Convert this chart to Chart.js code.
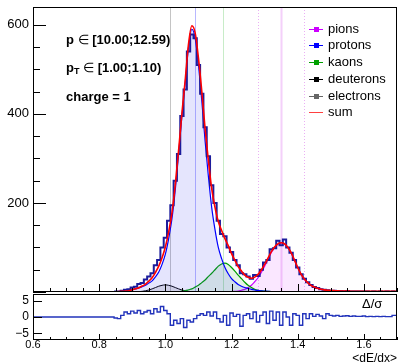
<!DOCTYPE html>
<html>
<head>
<meta charset="utf-8">
<script src="https://cdn.jsdelivr.net/npm/chart.js@4.4.1/dist/chart.umd.min.js"></script>
<style>
  body { margin: 0; background: #fff; width: 399px; height: 362px; overflow: hidden; position: relative;
         font-family: "Liberation Sans", Arial, Helvetica, sans-serif; }
  canvas { position: absolute; left: 0; }
  #topChart { top: 0; }
  #resChart { top: 293px; }
  .note { position: absolute; left: 66px; font-size: 13px; font-weight: bold; color: #000; white-space: nowrap; line-height: 1; }
  .note .sym { font-weight: normal; }
  .note sub { font-size: 9px; position: relative; top: 2px; vertical-align: baseline; }
  .leg { position: absolute; left: 309px; height: 14px; font-size: 13px; color: #000; line-height: 14px; white-space: nowrap; }
  .leg .ln { position: absolute; left: 0; top: 7px; width: 14px; height: 1px; }
  .leg .sq { position: absolute; left: 5px; top: 5px; width: 5px; height: 5px; }
  .leg .tx { position: absolute; left: 19px; top: 0; }
  #dsig { position: absolute; left: 362px; top: 297px; font-size: 13px; color: #000; line-height: 14px; }
  #xtitle { position: absolute; right: 2px; top: 352px; font-size: 12px; color: #000; line-height: 13px; }
</style>
</head>
<body>
<canvas id="topChart" width="399" height="294"></canvas>
<canvas id="resChart" width="399" height="69"></canvas>

<div class="note" style="top:33px">p <span class="sym">∈</span> [10.00;12.59)</div>
<div class="note" style="top:61px">p<sub>T</sub> <span class="sym">∈</span> [1.00;1.10)</div>
<div class="note" style="top:90px">charge = 1</div>
<div id="legend"></div>
<div id="dsig">Δ/σ</div>
<div id="xtitle">&lt;dE/dx&gt;</div>

<script>
// histogram of <dE/dx>, bins of 0.01 starting at 0.85 (values are bin centres)
const binWidth = 0.01;
const histStart = 0.85;
const histCounts = [
  1, 1, 3, 5, 6, 10, 12, 18, 20, 28, 35, 42, 60, 72, 100,          // 0.85 - 0.99
  122, 160, 195, 250, 310, 395, 455, 540, 578, 570,                // 1.00 - 1.09
  510, 445, 370, 305, 240, 200, 160, 130, 125, 100,                // 1.10 - 1.19
  90, 72, 60, 42, 40, 35, 30, 38, 36, 50,                          // 1.20 - 1.29
  66, 72, 96, 98, 115, 105, 118, 100, 88, 72,                      // 1.30 - 1.39
  55, 40, 30, 22, 16, 11, 9, 6, 5, 4,                              // 1.40 - 1.49
  3, 3, 2, 2, 1, 2, 1, 1, 1, 1,                                    // 1.50 - 1.59
  1, 1, 0, 1, 0, 1, 0, 1, 0, 1                                     // 1.60 - 1.69
];
// pull (data - fit) / sigma for the same bins
const residuals = [
  -0.3, -0.5, 0.5, 1.5, 1.0, 1.8, 1.2, 2.0, 1.0, 1.5, 2.0, 1.0, 2.5, 1.5, 3.2,
  2.0, 1.0, -2.5, -1.0, -2.0, -0.5, -3.2, -1.0, -1.5, -0.5,
  0.5, 1.0, 0.5, 1.5, 0.3, 1.5, -0.5, -1.5, 0.5, -2.5,
  1.2, 0.2, 0.8, -2.8, 0.5, 1.0, -0.5, 1.5, -1.5, 0.5,
  1.5, -2.0, 1.8, -1.0, 1.5, -2.5, 1.5, 0.0, -2.5, 1.0,
  0.5, -2.5, 1.0, -0.5, 1.0, 0.2, 0.8, 0.3, -0.5, 1.0,
  0.5, 0.3, 0.5, 0.2, 0.3, 0.4, 0.2, 0.3, 0.2, 0.2,
  0.3, 0.1, 0.2, 0.1, 0.2, 0.1, 0.2, 0.1, 0.1, 0.5
];

// fitted components, sampled every 0.01
const fitStep = 0.01;
const protonStart = 0.84;
const protonFit = [
  0.5, 0.7, 1, 1.5, 2, 3, 5, 7, 9, 12, 15, 20, 25, 34, 45, 62,     // 0.84 - 0.99
  85, 120, 165, 230, 310, 395, 470, 550, 590, 570,                 // 1.00 - 1.09
  510, 430, 340, 260, 190, 140, 100, 75, 55, 41,                   // 1.10 - 1.19
  30, 23, 17, 13, 10, 8, 6, 4.5, 3.5, 2.5,                         // 1.20 - 1.29
  2, 1.5, 1, 0.8, 0.6, 0.5, 0.4, 0.3, 0.2, 0.1, 0                  // 1.30 - 1.40
];
const kaonStart = 1.00;
const kaonFit = [
  0.2, 0.3, 0.5, 0.7, 1, 2, 3, 5, 7, 11,
  15, 21, 27, 35, 42, 50, 58, 63, 65, 62,
  55, 47, 38, 30, 22, 15, 10, 6, 4, 3,
  2, 1.5, 1, 0.6, 0.3, 0
];
const deuteronStart = 0.90;
const deuteronFit = [
  0.2, 0.4, 0.8, 1.5, 2.8, 4.5, 7, 10, 13, 15,
  16, 15, 13, 10, 7, 4.5, 2.8, 1.5, 0.8, 0.4, 0.2
];
const pionStart = 1.18;
const pionFit = [
  0.3, 0.6,                                                        // 1.18 - 1.19
  1, 1.5, 2, 4, 6, 10, 15, 23, 32, 44,                             // 1.20 - 1.29
  58, 73, 88, 100, 107, 110, 108, 100, 88, 72,                     // 1.30 - 1.39
  55, 40, 29, 21, 15, 11, 8, 6, 4.5, 3.5,                          // 1.40 - 1.49
  3, 2.5, 2, 1.7, 1.4, 1.2, 1, 0.9, 0.8, 0.7,                      // 1.50 - 1.59
  0.6, 0.5, 0.45, 0.4, 0.35, 0.3, 0.3, 0.25, 0.2, 0.2, 0.2         // 1.60 - 1.70
];
const electronX = [1.40, 1.45, 1.50, 1.55, 1.60, 1.65, 1.70];
const electronFit = [0, 0.3, 0.8, 1.2, 1.5, 1.6, 1.6];
const sumStart = 0.84;
const sumFit = [
  0.5, 0.7, 1, 1.5, 2, 3, 5.2, 7.4, 9.8, 13.5, 17.8, 24.5, 32, 44, 58, 77,   // 0.84 - 0.99
  101, 135, 178, 241, 318, 401, 476, 557, 598, 582,                          // 1.00 - 1.09
  525, 451, 367, 295, 232, 190, 158, 138, 120, 104,                          // 1.10 - 1.19
  86, 71.5, 57, 47, 38, 33, 31, 33.5, 39.5, 49.5,                            // 1.20 - 1.29
  62, 76, 90, 101, 108, 110.5, 108.4, 100.3, 88.2, 72.1,                     // 1.30 - 1.39
  55, 40, 29, 21, 15, 11.3, 8.3, 6.3, 4.8, 3.8,                              // 1.40 - 1.49
  3.5, 3, 2.5, 2.2, 2, 2, 1.8, 1.7, 1.6, 1.5,                                // 1.50 - 1.59
  1.5, 1.4, 1.4, 1.4, 1.4, 1.5, 1.5, 1.5, 1.5, 1.5, 1.5                      // 1.60 - 1.70
];

// axis tick labels
const countTicks = [200, 400, 600];
const pullTicks = [-5, 0, 5];
const dedxTicks = [0.6, 0.8, 1.0, 1.2, 1.4, 1.6];

// vertical marker lines (expected positions)
const markerX = [1.015, 1.09, 1.175, 1.28, 1.35, 1.42];
const markerColors = ['#c4c4c4', '#b8b8ff', '#c8ecc8', '#eab0f4', '#f4d0fa', '#eab0f4'];
const markerDash = [[], [], [], [1, 2], [], [1, 2]];
const markerWidth = [1, 1, 1, 1, 2, 1];

const species = ['pions', 'protons', 'kaons', 'deuterons', 'electrons', 'sum'];
const speciesColors = ['#cc00ff', '#0000ff', '#00a000', '#000000', '#666666', '#ff4040'];

function sampled(start, step, values) {
  return values.map((v, i) => ({ x: +(start + i * step).toFixed(3), y: v }));
}
function histPoints(start, counts) {
  const pts = counts.map((c, i) => ({ x: start - binWidth / 2 + i * binWidth, y: c }));
  pts.push({ x: start - binWidth / 2 + counts.length * binWidth, y: counts[counts.length - 1] });
  return pts;
}
const fixedTicks = list => s => { s.ticks = list.map(v => ({ value: v })); };

// inner ticks + frame, like a ROOT pad
const padFrame = {
  id: 'padFrame',
  afterDraw(chart, args, o) {
    const { ctx, chartArea: a, scales: { x, y } } = chart;
    ctx.save();
    ctx.strokeStyle = '#000';
    ctx.lineWidth = 1;
    ctx.beginPath();
    for (let v = o.xFrom; v <= x.max + 1e-9; v += o.xMinor) {
      const px = Math.round(x.getPixelForValue(v)) + 0.5;
      const major = Math.abs(v / o.xMajor - Math.round(v / o.xMajor)) < 1e-6;
      ctx.moveTo(px, a.bottom);
      ctx.lineTo(px, a.bottom - (major ? o.xMajorLen : o.xMinorLen));
    }
    for (let v = o.yFrom; v <= y.max + 1e-9; v += o.yMinor) {
      const py = Math.round(y.getPixelForValue(v)) + 0.5;
      const major = Math.abs(v / o.yMajor - Math.round(v / o.yMajor)) < 1e-6;
      ctx.moveTo(a.left, py);
      ctx.lineTo(a.left + (major ? o.yMajorLen : o.yMinorLen), py);
    }
    ctx.stroke();
    ctx.strokeRect(Math.round(a.left) + 0.5, Math.round(a.top) + 0.5,
      Math.round(a.right - a.left) - 1, Math.round(a.bottom - a.top) - 1);
    ctx.restore();
  }
};

const markerLines = {
  id: 'markerLines',
  beforeDatasetsDraw(chart) {
    const { ctx, chartArea: a, scales: { x } } = chart;
    ctx.save();
    markerX.forEach((v, i) => {
      const px = Math.round(x.getPixelForValue(v)) + 0.5;
      ctx.strokeStyle = markerColors[i];
      ctx.lineWidth = markerWidth[i];
      ctx.setLineDash(markerDash[i]);
      ctx.beginPath();
      ctx.moveTo(px, a.top);
      ctx.lineTo(px, a.bottom);
      ctx.stroke();
    });
    ctx.restore();
  }
};

function curve(label, pts, color, fillColor, order, width) {
  return {
    label, data: pts, borderColor: color, borderWidth: width || 1.2,
    backgroundColor: fillColor || 'transparent', fill: fillColor ? 'origin' : false,
    pointRadius: 0, tension: 0.4, cubicInterpolationMode: 'monotone', order
  };
}

const noPad = s => { s.paddingTop = 0; s.paddingBottom = 0; };

new Chart(document.getElementById('topChart'), {
  type: 'line',
  data: {
    datasets: [
      curve('deuterons', sampled(deuteronStart, fitStep, deuteronFit), '#000', 'rgba(0,0,0,0.10)', 6, 1),
      curve('protons', sampled(protonStart, fitStep, protonFit), '#0000ff', 'rgba(40,40,240,0.12)', 5),
      curve('kaons', sampled(kaonStart, fitStep, kaonFit), '#00a000', 'rgba(0,150,0,0.10)', 5),
      curve('pions', sampled(pionStart, fitStep, pionFit), '#cc00ff', 'rgba(215,60,255,0.12)', 5),
      curve('electrons', electronX.map((x, i) => ({ x, y: electronFit[i] })), '#666', null, 5),
      {
        label: 'data', data: histPoints(histStart, histCounts), stepped: 'before',
        borderColor: '#1c1c9c', borderWidth: 2, pointRadius: 0, fill: false, order: 2
      },
      curve('sum', sampled(sumStart, fitStep, sumFit), '#ff0000', null, 1, 1.6)
    ]
  },
  options: {
    responsive: false, animation: false, events: [],
    layout: { padding: { left: 0, right: 2, top: 7, bottom: 2 } },
    plugins: {
      legend: { display: false }, tooltip: { enabled: false },
      padFrame: { xFrom: 0.6, xMinor: 0.05, xMajor: 0.2, xMajorLen: 8, xMinorLen: 4,
                  yFrom: 0, yMinor: 50, yMajor: 200, yMajorLen: 13, yMinorLen: 7 }
    },
    scales: {
      x: { type: 'linear', min: 0.6, max: 1.7, display: false },
      y: {
        min: 0, max: 640,
        grid: { display: false, drawTicks: false }, border: { display: false },
        ticks: { padding: 4, color: '#000', font: { size: 13, family: '"Liberation Sans", Arial' },
                 callback: v => String(v) },
        afterBuildTicks: fixedTicks(countTicks),
        afterFit: s => { s.width = 33; noPad(s); }
      }
    }
  },
  plugins: [markerLines, padFrame]
});

new Chart(document.getElementById('resChart'), {
  type: 'line',
  data: {
    datasets: [{
      label: 'pull',
      data: [{ x: 0.6, y: 0 }].concat(histPoints(histStart, residuals), [{ x: 1.7, y: residuals[residuals.length - 1] }]),
      stepped: 'before', borderColor: '#2233bb', borderWidth: 1.4, pointRadius: 0, fill: false
    }]
  },
  options: {
    responsive: false, animation: false, events: [],
    layout: { padding: { left: 0, right: 2, top: 1, bottom: 0 } },
    plugins: {
      legend: { display: false }, tooltip: { enabled: false },
      padFrame: { xFrom: 0.6, xMinor: 0.05, xMajor: 0.2, xMajorLen: 6, xMinorLen: 3,
                  yFrom: -5, yMinor: 5, yMajor: 5, yMajorLen: 9, yMinorLen: 9 }
    },
    scales: {
      x: {
        type: 'linear', min: 0.6, max: 1.7,
        grid: { display: false, drawTicks: false }, border: { display: false },
        ticks: { padding: -2, color: '#000', font: { size: 11, family: '"Liberation Sans", Arial' },
                 callback: v => v.toFixed(1) },
        afterBuildTicks: fixedTicks(dedxTicks),
        afterFit: s => { s.height = 22; s.paddingLeft = 0; s.paddingRight = 0; }
      },
      y: {
        min: -7, max: 7,
        grid: { display: false, drawTicks: false }, border: { display: false },
        ticks: { padding: 4, color: '#000', font: { size: 12, family: '"Liberation Sans", Arial' },
                 callback: v => (v < 0 ? '\u2212' + Math.abs(v) : String(v)) },
        afterBuildTicks: fixedTicks(pullTicks),
        afterFit: s => { s.width = 33; noPad(s); }
      }
    }
  },
  plugins: [padFrame]
});

// legend block
const legend = document.getElementById('legend');
const legendTop = [22, 38, 55, 72, 89, 105];
species.forEach((name, i) => {
  const row = document.createElement('div');
  row.className = 'leg';
  row.style.top = legendTop[i] + 'px';
  const sq = name === 'sum' ? '' : `<div class="sq" style="background:${speciesColors[i]}"></div>`;
  row.innerHTML = `<div class="ln" style="background:${speciesColors[i]}"></div>${sq}<div class="tx">${name}</div>`;
  legend.appendChild(row);
});
</script>
</body>
</html>
